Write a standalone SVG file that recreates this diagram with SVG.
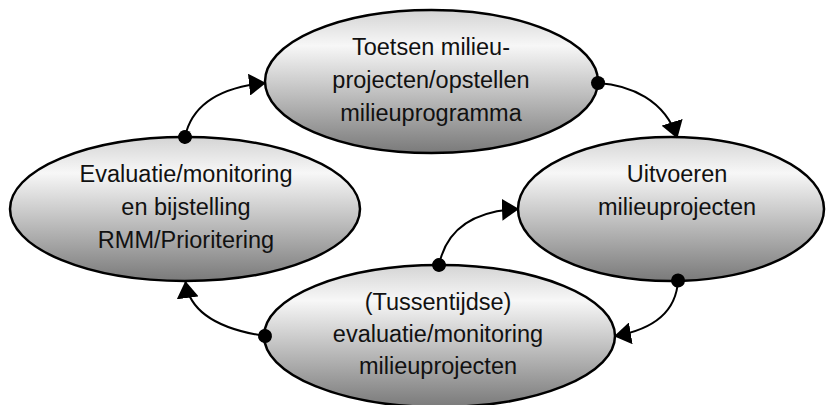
<svg xmlns="http://www.w3.org/2000/svg" width="826" height="405" viewBox="0 0 826 405">
  <defs>
    <linearGradient id="fillGrad" x1="0" y1="0" x2="0" y2="1">
      <stop offset="0" stop-color="#d4d4d4"/>
      <stop offset="0.25" stop-color="#f7f7f7"/>
      <stop offset="1" stop-color="#7a7a7a"/>
    </linearGradient>
    <marker id="arrow" markerUnits="userSpaceOnUse" markerWidth="17" markerHeight="22" viewBox="0 0 17 22" refX="16" refY="11" orient="auto">
      <path d="M0,0 L17,11 L0,22 Z" fill="#000"/>
    </marker>
    <marker id="dot" markerUnits="userSpaceOnUse" markerWidth="16" markerHeight="16" viewBox="0 0 16 16" refX="8" refY="8" orient="auto">
      <circle cx="8" cy="8" r="7" fill="#000"/>
    </marker>
  </defs>
  <style>
    .node ellipse { fill: url(#fillGrad); stroke: #000; stroke-width: 2.5; }
    .node text { font-family: "Liberation Sans", Arial, sans-serif; font-size: 23.5px; fill: #111; text-anchor: middle; }
    .conn path { fill: none; stroke: #000; stroke-width: 2; marker-start: url(#dot); marker-end: url(#arrow); }
  </style>
  <rect width="826" height="405" fill="#fff"/>

  <g id="node-toetsen" class="node">
    <ellipse cx="431.5" cy="81.5" rx="166.5" ry="71.5"/>
    <text x="431" y="55">Toetsen milieu-</text>
    <text x="431" y="88">projecten/opstellen</text>
    <text x="431" y="120.5">milieuprogramma</text>
  </g>

  <g id="node-evaluatie" class="node">
    <ellipse cx="185" cy="209" rx="175" ry="72"/>
    <text x="186" y="182">Evaluatie/monitoring</text>
    <text x="186" y="215">en bijstelling</text>
    <text x="186" y="248">RMM/Prioritering</text>
  </g>

  <g id="node-uitvoeren" class="node">
    <ellipse cx="671" cy="209" rx="153" ry="72"/>
    <text x="677" y="182">Uitvoeren</text>
    <text x="677" y="215">milieuprojecten</text>
  </g>

  <g id="node-tussentijdse" class="node">
    <ellipse cx="439.5" cy="336" rx="175.5" ry="71"/>
    <text x="438" y="310">(Tussentijdse)</text>
    <text x="438" y="342">evaluatie/monitoring</text>
    <text x="438" y="373.5">milieuprojecten</text>
  </g>

  <g id="connectors" class="conn">
    <path d="M185,137 Q195,90 265,83"/>
    <path d="M598,83 C630,85 665,100 677,137.5"/>
    <path d="M678,280.5 C676,315 650,330 615,336"/>
    <path d="M439,265 Q450,212 518,209"/>
    <path d="M265,336 C225,330 190,315 185.5,282"/>
  </g>
</svg>
